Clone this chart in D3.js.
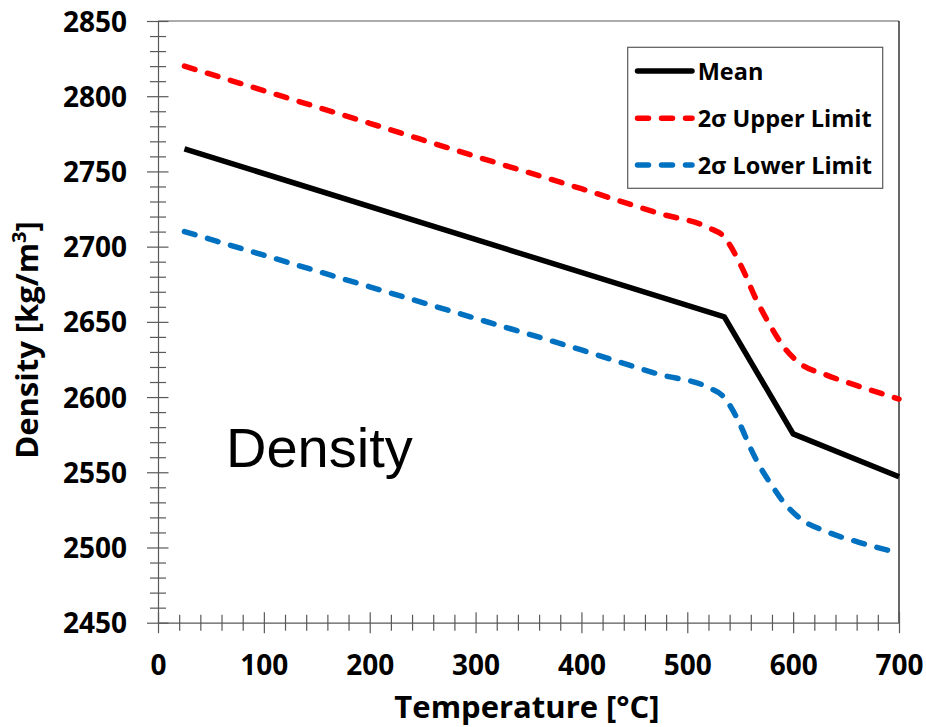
<!DOCTYPE html>
<html>
<head>
<meta charset="utf-8">
<script src="https://cdn.jsdelivr.net/npm/d3@7"></script>
<style>
  html, body { margin: 0; padding: 0; background: #fff; }
  svg { display: block; font-family: "Open Sans", "Liberation Sans", sans-serif; }
</style>
</head>
<body>
<svg id="chart" width="926" height="727"></svg>
<script>
// Temperature-dependent density: mean and 2-sigma band
const meanT = [25, 535, 600, 700];
const meanRho = [2765, 2653.3, 2575.5, 2547];

const upperT = [25, 100, 200, 300, 400, 474, 521, 534, 551, 565, 578, 592, 606, 631, 663, 700];
const upperRho = [2820, 2803.7, 2782, 2760, 2738.5, 2722, 2712.3, 2707, 2687, 2665, 2648, 2632.5, 2622.6, 2614.8, 2607, 2598.7];

const lowerT = [25, 100, 200, 300, 400, 474, 521, 534, 550, 559, 568.5, 579.5, 590.5, 606, 631, 663, 700];
const lowerRho = [2710, 2694.3, 2673.3, 2652.3, 2631.3, 2615, 2606, 2600.4, 2581.6, 2567.1, 2553.9, 2541.7, 2530.6, 2519.6, 2510.7, 2503.3, 2496.3];

const xMajorTicks = [0, 100, 200, 300, 400, 500, 600, 700];
const yMajorTicks = [2450, 2500, 2550, 2600, 2650, 2700, 2750, 2800, 2850];

const seriesNames = ["Mean", "2σ Upper Limit", "2σ Lower Limit"];
const seriesColors = ["#000000", "#ff0000", "#0070c0"];

const svg = d3.select("#chart");
const x = d3.scaleLinear().domain([0, 700]).range([158, 899]);
const y = d3.scaleLinear().domain([2450, 2850]).range([622.7, 21]);
const axisColor = "#595959";

// plot frame (top and right)
svg.append("line").attr("x1", x(0)).attr("x2", x(700)).attr("y1", y(2850)).attr("y2", y(2850))
  .attr("stroke", axisColor).attr("stroke-width", 1);
svg.append("line").attr("x1", x(700)).attr("x2", x(700)).attr("y1", y(2850)).attr("y2", y(2450))
  .attr("stroke", "#000").attr("stroke-width", 1.2);

// minor ticks
const xMinor = d3.range(0, 701, 20).filter(v => v % 100 !== 0);
const yMinor = d3.range(2450, 2851, 10).filter(v => v % 50 !== 0);

const gxMinor = svg.append("g").attr("transform", `translate(0,${y(2450)})`)
  .call(d3.axisBottom(x).tickValues(xMinor).tickFormat("").tickSizeOuter(0));
gxMinor.selectAll(".tick line").attr("y1", -8).attr("y2", 8);
gxMinor.select(".domain").remove();

const gyMinor = svg.append("g").attr("transform", `translate(${x(0)},0)`)
  .call(d3.axisLeft(y).tickValues(yMinor).tickFormat("").tickSizeOuter(0));
gyMinor.selectAll(".tick line").attr("x1", -8).attr("x2", 8);
gyMinor.select(".domain").remove();

// major axes
const gx = svg.append("g").attr("transform", `translate(0,${y(2450)})`)
  .call(d3.axisBottom(x).tickValues(xMajorTicks).tickFormat(d3.format("d")).tickSizeOuter(0));
gx.selectAll(".tick line").attr("y1", -10.5).attr("y2", 10.5);
gx.selectAll(".tick text").attr("y", 52.3).attr("dy", null)
  .attr("font-size", 28).attr("font-weight", 700).attr("fill", "#000");

const gy = svg.append("g").attr("transform", `translate(${x(0)},0)`)
  .call(d3.axisLeft(y).tickValues(yMajorTicks).tickFormat(d3.format("d")).tickSizeOuter(0));
gy.selectAll(".tick line").attr("x1", -11).attr("x2", 10.5);
gy.selectAll(".tick text").attr("x", -31).attr("dy", "0.36em")
  .attr("font-size", 28).attr("font-weight", 700).attr("fill", "#000");

svg.selectAll(".domain, .tick line").attr("stroke", axisColor).attr("stroke-width", 1.2);
svg.selectAll(".tick text").attr("font-family", "'Open Sans', sans-serif");

// series lines
const toPts = (t, v) => t.map((d, i) => [d, v[i]]);
const lineLinear = d3.line().x(d => x(d[0])).y(d => y(d[1]));
const lineSmooth = d3.line().x(d => x(d[0])).y(d => y(d[1])).curve(d3.curveMonotoneX);

const g = svg.append("g").attr("fill", "none").attr("stroke-linecap", "round").attr("stroke-linejoin", "round");
g.append("path").attr("d", lineSmooth(toPts(upperT, upperRho)))
  .attr("stroke", seriesColors[1]).attr("stroke-width", 5.5).attr("stroke-dasharray", "11,13");
g.append("path").attr("d", lineSmooth(toPts(lowerT, lowerRho)))
  .attr("stroke", seriesColors[2]).attr("stroke-width", 5.5).attr("stroke-dasharray", "11,13");
g.append("path").attr("d", lineLinear(toPts(meanT, meanRho)))
  .attr("stroke", seriesColors[0]).attr("stroke-width", 5.5).attr("stroke-linecap", "butt");

// axis titles
svg.append("text").attr("x", 527).attr("y", 718).attr("text-anchor", "middle")
  .attr("font-size", 31).attr("font-weight", 700).text("Temperature [°C]");

const yt = svg.append("text").attr("transform", "translate(38,340) rotate(-90)")
  .attr("text-anchor", "middle").attr("font-size", 31).attr("font-weight", 700);
yt.append("tspan").text("Density [kg/m");
yt.append("tspan").attr("font-size", 20).attr("dy", -12).text("3");
yt.append("tspan").attr("dy", 12).text("]");

// in-plot annotation
svg.append("text").attr("x", 226).attr("y", 467)
  .style("font-family", "'Liberation Sans', Arial, sans-serif").attr("font-size", 56).text("Density");

// legend
const lg = svg.append("g");
lg.append("rect").attr("x", 627.7).attr("y", 47.3).attr("width", 255).attr("height", 141)
  .attr("fill", "#fff").attr("stroke", axisColor).attr("stroke-width", 1.2);
const legendY = [71, 118.3, 165];
seriesNames.forEach((name, i) => {
  lg.append("line").attr("x1", 637.5).attr("x2", 692).attr("y1", legendY[i]).attr("y2", legendY[i])
    .attr("stroke", seriesColors[i]).attr("stroke-width", 5.5)
    .attr("stroke-linecap", "round")
    .attr("stroke-dasharray", i === 0 ? null : "11,13");
  lg.append("text").attr("x", 697.7).attr("y", legendY[i] + 8.5)
    .attr("font-size", 23.5).attr("font-weight", 700).text(name);
});
</script>
</body>
</html>
